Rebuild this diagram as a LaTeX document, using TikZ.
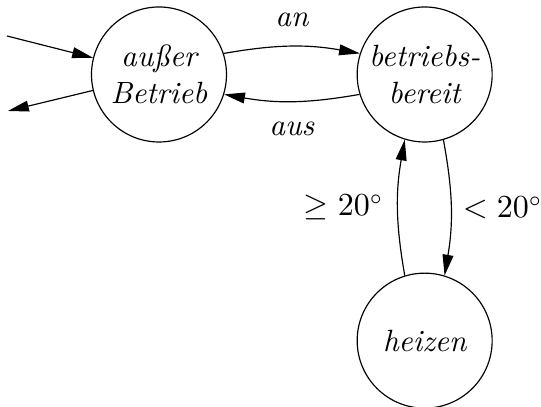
\documentclass[tikz,border=0pt]{standalone}
\usepackage{tikz}
\usetikzlibrary{arrows.meta, positioning}
\usepackage{amsmath, amssymb}

\begin{document}
\begin{tikzpicture}[node distance=1.55cm, >={Triangle[length=0.25cm, width=0.13cm]},
    every node/.style={font=\fontsize{10.5}{12.8}\selectfont},
    state/.style={draw, circle, minimum size=1.62cm, inner sep=0pt, align=center, font=\fontsize{10.5}{12.8}\selectfont\itshape}]
    \useasboundingbox (-1.908,0.894) rectangle (4.584,-3.99);

    % States
    \node[state] (off) {außer\\Betrieb};
    \node[state, right=1.554cm of off] (ready) {betriebs-\\bereit};
    \node[state, below=1.56cm of ready] (heat) {heizen};

    % Start and end
    \coordinate (start) at (-1.824,0.462);
    \coordinate (stop) at (-1.812,-0.438);
    \draw[->] (start) -- (off);
    \draw[->] (off) -- (stop);

    % Transitions
    \draw[->] (off.18) to[bend left=10] node[above=0.11cm] {\itshape an} (ready.162);
    \draw[->] (ready.197) to[bend left=10] node[below=0.12cm] {\itshape aus} (off.-17);
    \draw[->] (ready.-74) to[bend left=10] node[right=0.02cm] {$<20^\circ$} (heat.73);
    \draw[->] (heat.107) to[bend left=10] node[left=0.05cm] {$\geq 20^\circ$} (ready.-107);
\end{tikzpicture}
\end{document}
